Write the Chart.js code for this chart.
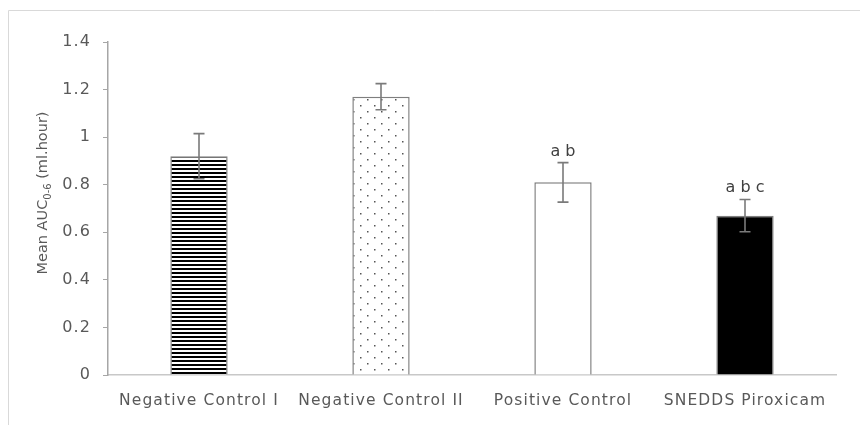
<!DOCTYPE html>
<html>
<head>
<meta charset="utf-8">
<script src="https://cdn.jsdelivr.net/npm/chart.js@4.4.0/dist/chart.umd.min.js"></script>
<style>
html,body{margin:0;padding:0;background:#fff;}
#wrap{width:860px;height:425px;position:relative;}
</style>
</head>
<body>
<div id="wrap"><canvas id="c" width="860" height="425"></canvas></div>
<script>
const categories = ["Negative Control I", "Negative Control II", "Positive Control", "SNEDDS Piroxicam"];
const meanValues = [0.92, 1.17, 0.81, 0.67];
const errorValues = [0.095, 0.055, 0.083, 0.068];
const significance = ["", "", "a b", "a b c"];
const yTicks = [0, 0.2, 0.4, 0.6, 0.8, 1, 1.2, 1.4];

const FONT = "'DejaVu Sans', sans-serif";
const TXT = '#595959';

function stripePattern() {
  const c = document.createElement('canvas');
  c.width = 8; c.height = 4;
  const x = c.getContext('2d');
  x.fillStyle = '#fff'; x.fillRect(0, 0, 8, 4);
  x.fillStyle = '#000'; x.fillRect(0, 0, 8, 2);
  return x.createPattern(c, 'repeat');
}
function dotPattern() {
  const c = document.createElement('canvas');
  c.width = 14; c.height = 12;
  const x = c.getContext('2d');
  x.fillStyle = '#fff'; x.fillRect(0, 0, 14, 12);
  x.fillStyle = '#555';
  x.fillRect(3, 3, 1.5, 1.5);
  x.fillRect(10, 9, 1.5, 1.5);
  return x.createPattern(c, 'repeat');
}

const spacingPlugin = {
  id: 'spacing',
  beforeDraw(chart) { chart.ctx.letterSpacing = '1.1px'; },
  beforeDatasetsDraw(chart) { chart.ctx.letterSpacing = '0px'; }
};

const framePlugin = {
  id: 'frame',
  afterDraw(chart) {
    const ctx = chart.ctx;
    ctx.save();
    ctx.strokeStyle = '#d9d9d9';
    ctx.lineWidth = 1;
    ctx.beginPath();
    ctx.moveTo(8.5, 425);
    ctx.lineTo(8.5, 10.5);
    ctx.lineTo(860, 10.5);
    ctx.stroke();
    ctx.restore();
  }
};

const errorPlugin = {
  id: 'errbars',
  afterDatasetsDraw(chart) {
    const ctx = chart.ctx;
    const meta = chart.getDatasetMeta(0);
    const ys = chart.scales.y;
    ctx.save();
    ctx.strokeStyle = '#7a7a7a';
    ctx.lineWidth = 1.6;
    meta.data.forEach((bar, i) => {
      const x = bar.x;
      const top = ys.getPixelForValue(meanValues[i] + errorValues[i]);
      const bot = ys.getPixelForValue(meanValues[i] - errorValues[i]);
      ctx.beginPath();
      ctx.moveTo(x, top); ctx.lineTo(x, bot);
      ctx.moveTo(x - 5.5, top); ctx.lineTo(x + 5.5, top);
      ctx.moveTo(x - 5.5, bot); ctx.lineTo(x + 5.5, bot);
      ctx.stroke();
      if (significance[i]) {
        ctx.fillStyle = '#404040';
        ctx.font = "16px " + FONT;
        ctx.textAlign = 'center';
        ctx.textBaseline = 'alphabetic';
        ctx.fillText(significance[i], x, top - 7);
      }
    });
    ctx.restore();
  }
};

const yTitlePlugin = {
  id: 'ytitle',
  afterDraw(chart) {
    const ctx = chart.ctx;
    ctx.save();
    ctx.letterSpacing = '0px';
    ctx.translate(43, 193);
    ctx.rotate(-Math.PI / 2);
    ctx.fillStyle = TXT;
    ctx.textBaseline = 'middle';
    const big = "14.5px " + FONT, small = "10px " + FONT;
    const p1 = "Mean AUC", p2 = "0-6", p3 = " (ml.hour)";
    ctx.font = big; const w1 = ctx.measureText(p1).width; const w3 = ctx.measureText(p3).width;
    ctx.font = small; const w2 = ctx.measureText(p2).width;
    let x = -(w1 + w2 + w3) / 2;
    ctx.textAlign = 'left';
    ctx.font = big; ctx.fillText(p1, x, 0); x += w1;
    ctx.font = small; ctx.fillText(p2, x, 5); x += w2;
    ctx.font = big; ctx.fillText(p3, x, 0);
    ctx.restore();
  }
};

new Chart(document.getElementById('c'), {
  type: 'bar',
  data: {
    labels: categories,
    datasets: [{
      data: meanValues,
      backgroundColor: [stripePattern(), dotPattern(), '#ffffff', '#000000'],
      borderColor: '#7f7f7f',
      borderWidth: 1.5,
      categoryPercentage: 1,
      barPercentage: 0.315
    }]
  },
  options: {
    responsive: false,
    animation: false,
    devicePixelRatio: 1,
    layout: { padding: { left: 0, right: 24, top: 42, bottom: 0 } },
    plugins: { legend: { display: false }, tooltip: { enabled: false } },
    scales: {
      x: {
        grid: { display: false },
        border: { color: '#c8c8c8', width: 1.5 },
        ticks: { color: TXT, font: { family: FONT, size: 15.5 }, padding: 9, maxRotation: 0, autoSkip: false },
        afterFit(s) { s.height = 50; }
      },
      y: {
        min: 0, max: 1.4,
        afterBuildTicks(s) { s.ticks = yTicks.map(v => ({ value: v })); },
        grid: { drawOnChartArea: false, tickLength: 5, color: '#a6a6a6' },
        border: { color: '#a6a6a6', width: 1.5 },
        ticks: { color: TXT, font: { family: FONT, size: 16 }, padding: 12,
                 callback: v => String(Math.round(v * 10) / 10) },
        afterFit(s) { s.width = 108; }
      }
    }
  },
  plugins: [spacingPlugin, framePlugin, errorPlugin, yTitlePlugin]
});
</script>
</body>
</html>
